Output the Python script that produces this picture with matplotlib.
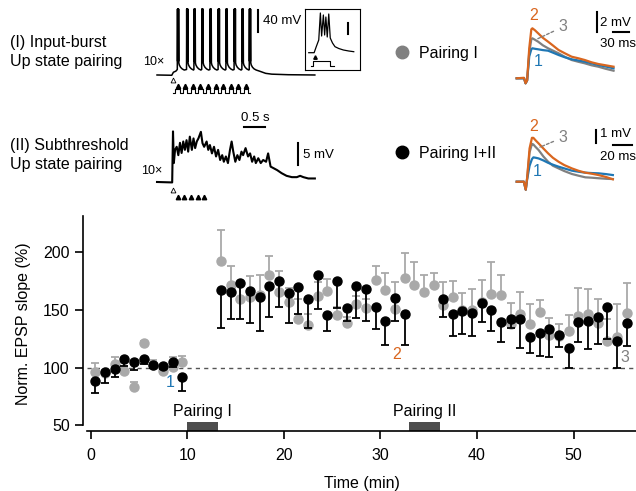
import numpy as np
import matplotlib
matplotlib.use("Agg")
import matplotlib.pyplot as plt
from matplotlib.lines import Line2D

plt.rcParams["font.family"] = ["Liberation Sans", "DejaVu Sans"]

W, H = 636, 491
ORANGE = "#d9661f"
BLUE = "#1f77b4"
GREY = "#808080"
LIGHT = "#a9a9a9"

# ---- summary data (min, % of baseline) ----
TIME = [0.5, 1.5, 2.5, 3.5, 4.5, 5.5, 6.5, 7.5, 8.5, 9.5,
        13.5, 14.5, 15.5, 16.5, 17.5, 18.5, 19.5, 20.5, 21.5, 22.5,
        23.5, 24.5, 25.5, 26.5, 27.5, 28.5, 29.5, 30.5, 31.5, 32.5,
        33.5, 34.5, 35.5, 36.5, 37.5, 38.5, 39.5, 40.5, 41.5, 42.5,
        43.5, 44.5, 45.5, 46.5, 47.5, 48.5, 49.5, 50.5, 51.5, 52.5,
        53.5, 54.5, 55.5]
P1_MEAN = [96.5, 95, 103.2, 97.1, 83.6, 121.1, 102, 96.9, 101, 105.2,
           192.3, 171.5, 159.2, 160.9, 162.9, 180.5, 165.8, 156.6, 142, 136.7,
           162, 166.6, 145.3, 138.4, 155.1, 151.4, 175.9, 167.2, 151, 177.3,
           171.3, 165.2, 171.5, 154.2, 161, 150, 150, 157, 163.8, 162.6,
           137.8, 146.4, 137.8, 147.9, 128.3, 127.4, 131.7, 145, 146.2, 138.4,
           123.1, 126.8, 147.6]
P1_SEM = [7.3, 3, 6.3, 3, 4.3, 2, 5, 3, 8, 5,
          27, 16.5, 12, 18, 17, 16, 18, 12.5, 17, 10,
          12, 10, 7.5, 5, 7, 7.6, 12, 14.4, 23, 22,
          20, 15, 10.7, 20, 14, 15, 18, 19, 28, 17.6,
          17.9, 19.3, 17, 10.7, 15, 10.4, 13.9, 24, 21.9, 21,
          19, 28, 25.4]
P12_MEAN = [88.2, 96.0, 98.6, 107.5, 104.7, 107.5, 102.6, 101.7, 105.2, 92,
            167.2, 165.8, 173.5, 166, 160.9, 170.7, 175.3, 164.9, 169.8, 159.2,
            180.2, 145.3, 175, 151.4, 170.7, 168.3, 152.5, 140.4, 160, 146.2,
            np.nan, np.nan, np.nan, 159.2, 146.4, 149.3, 147.1, 155.7, 149.9, 139.8,
            142.1, 142.1, 126.8, 129.8, 133.5, 128.3, 117.3, 139.8, 140.7, 144.1,
            152.8, 123.1, 138.9]
P12_SEM = [10.4, 9, 6.4, 6, 6.7, 4.5, 3, 3, 5, 12,
           33, 24, 31, 27, 29, 27, 23, 26.5, 23.4, 24.6,
           29.7, 13.3, 23, 11, 28, 27.7, 19.3, 20.8, 20, 26.6,
           np.nan, np.nan, np.nan, 15.6, 18.7, 20, 19.4, 16, 18, 17.3,
           8, 25.3, 14.3, 19.4, 24.5, 10, 17.3, 17.3, 24.8, 23.6,
           28.2, 23.6, 20.1]
PAIRING_START = [10, 33]
PAIRING_END = [13.2, 36.2]
PAIRING_LABELS = ["Pairing I", "Pairing II"]

# ---- example voltage traces ----
# (I) input-burst pairing: s, mV
TRACE_I_PRE_T = [0.00, 0.36, 0.40, 0.46]
TRACE_I_PRE_V = [-70, -70.5, -65, -63]
BURST_ONSETS = [0.495, 0.72, 0.90, 1.09, 1.29, 1.49, 1.68, 1.88, 2.07, 2.25]
BURST_SHAPE_T = [0.000, 0.004, 0.008, 0.013, 0.017, 0.022, 0.027, 0.032,
                 0.037, 0.050, 0.080, 0.120, 0.170]
BURST_SHAPE_V = [-60, 50, -45, 50, -45, 50, -45, 50, -48, -52, -56, -59, -61]
TRACE_I_POST_T = [2.50, 2.65, 2.80, 3.20, 3.85]
TRACE_I_POST_V = [-63, -67, -68.5, -69.5, -70]
STIM_I = [0.50, 0.69, 0.87, 1.06, 1.24, 1.43, 1.61, 1.80, 1.98, 2.17]

# inset: ms, mV
INSET_T = [0, 21.5, 30, 40, 46.5, 51.5, 58.5, 63.5, 68.5, 74, 80, 86, 95,
           105, 120, 138.5, 160, 180]
INSET_V = [-70, -70, -58, -44.6, 9.4, -36.6, 5.4, -34.6, 1.4, -38.6, 7.4,
           -40.6, -50.6, -58, -61.6, -64.6, -66.6, -68]

# (II) subthreshold pairing: s, mV
TRACE_II_T = [0.00, 0.37, 0.39, 0.41, 0.44, 0.48, 0.52, 0.56, 0.60, 0.64,
              0.68, 0.72, 0.76, 0.80, 0.85, 0.89, 0.93, 0.97, 1.01, 1.07,
              1.11, 1.15, 1.21, 1.25, 1.29, 1.34, 1.39, 1.44, 1.49, 1.54,
              1.59, 1.63, 1.68, 1.73, 1.78, 1.82, 1.86, 1.91, 1.96, 2.01,
              2.06, 2.10, 2.16, 2.22, 2.27, 2.32, 2.37, 2.41, 2.47, 2.53,
              2.59, 2.66, 2.71, 2.77, 2.85, 2.93, 3.04, 3.16, 3.29, 3.41,
              3.49, 3.57, 3.69, 3.85]
TRACE_II_V = [0.0, -0.1, 11.5, 4.3, 7.3, 8.0, 6.1, 8.9, 6.6, 9.2,
              7.3, 9.5, 6.9, 10.3, 7.3, 9.9, 7.7, 9.2, 9.9, 11.4,
              8.8, 8.0, 9.2, 7.3, 8.4, 6.5, 8.0, 5.8, 7.3, 5.0,
              6.1, 4.6, 5.8, 4.3, 7.3, 9.2, 6.9, 4.6, 6.1, 5.0,
              6.9, 6.1, 7.7, 5.8, 6.5, 4.6, 5.8, 4.3, 5.4, 4.3,
              5.0, 4.6, 6.5, 3.5, 3.1, 2.7, 2.0, 1.4, 1.1, 1.1,
              1.4, 1.1, 0.8, 0.8]
STIM_II = [0.50, 0.66, 0.83, 0.99, 1.15]

# averaged EPSPs: ms, mV   (1 = baseline, 2 = after pairing, 3 = late)
EPSP_I_T = [0, 14, 17, 20, 24, 28, 30, 35, 41, 50, 60, 70, 80, 92, 105,
            118, 130, 143, 156, 170, 185]
EPSP_I_1 = [0, 0, -0.5, -0.2, 2.2, 2.9, 3.0, 2.95, 2.9, 2.82, 2.76, 2.55,
            2.33, 2.1, 1.9, 1.78, 1.66, 1.5, 1.33, 1.18, 1.0]
EPSP_I_2 = [0, 0.05, -0.5, -0.2, 3.0, 4.9, 5.0, 4.8, 4.5, 4.05, 3.66, 3.25,
            2.83, 2.5, 2.16, 2.0, 1.83, 1.6, 1.43, 1.3, 1.16]
EPSP_I_3 = [0, 0, -0.5, -0.2, 2.6, 3.9, 4.0, 3.85, 3.66, 3.3, 3.0, 2.75,
            2.5, 2.15, 1.83, 1.65, 1.5, 1.3, 1.16, 0.95, 0.76]
EPSP_II_T = [0, 7.5, 9.5, 11, 13.5, 16, 17.5, 20, 23, 28, 33, 38, 44, 50,
             58, 65, 72, 79, 86, 94, 101]
EPSP_II_1 = [0, 0, -0.6, 0.2, 1.2, 1.7, 1.83, 1.8, 1.75, 1.6, 1.42, 1.28,
             1.13, 1.0, 0.83, 0.75, 0.68, 0.65, 0.63, 0.57, 0.5]
EPSP_II_2 = [0, 0, -0.6, 0.3, 2.5, 3.3, 3.3, 3.1, 2.88, 2.5, 2.13, 1.8,
             1.5, 1.25, 1.0, 0.82, 0.68, 0.6, 0.5, 0.35, 0.18]
EPSP_II_3 = [0, 0, -0.6, 0.3, 2.2, 2.85, 2.8, 2.6, 2.38, 1.9, 1.5, 1.2,
             1.0, 0.8, 0.58, 0.45, 0.33, 0.3, 0.26, 0.22, 0.2]


def px_axes(fig, x0, y0, x1, y1):
    ax = fig.add_axes([x0 / W, 1 - y1 / H, (x1 - x0) / W, (y1 - y0) / H])
    ax.patch.set_alpha(0)
    return ax


fig = plt.figure(figsize=(W / 100, H / 100), dpi=100)

# ---------- main time course ----------
ax = fig.add_axes([87 / W, 1 - 431 / H, (W - 87) / W, (431 - 216) / H])
ax.set_xlim(-0.37, 56.46)
ax.set_ylim(45.2, 231.2)
ax.axhline(100, color="#555555", lw=1, ls=(0, (3, 3)), zorder=1)

t = np.array(TIME)
zero = np.zeros(len(t))
ax.errorbar(t, P1_MEAN, yerr=[zero, P1_SEM], fmt="o", color=LIGHT, ms=6.5,
            elinewidth=1.3, capsize=3, capthick=1.3, zorder=2)
ax.errorbar(t, P12_MEAN, yerr=[P12_SEM, zero], fmt="o", color="black", ms=6.5,
            elinewidth=1.3, capsize=3, capthick=1.3, zorder=3)

for s, e, lab in zip(PAIRING_START, PAIRING_END, PAIRING_LABELS):
    ax.axvspan(s, e, ymin=0, ymax=(52.7 - 45.2) / (231.2 - 45.2),
               color="#4d4d4d", lw=0, zorder=2)
    ax.text((s + e) / 2, 62.5, lab, ha="center", va="center", fontsize=11.5)

ax.text(8.2, 86.8, "1", color=BLUE, ha="center", va="center", fontsize=11.5)
ax.text(31.7, 111.8, "2", color=ORANGE, ha="center", va="center", fontsize=11.5)
ax.text(55.3, 109, "3", color=GREY, ha="center", va="center", fontsize=11.5)

ax.spines[["top", "right"]].set_visible(False)
ax.spines["left"].set_position(("outward", 3))
ax.spines["left"].set_bounds(50, 231.2)
for sp in ("left", "bottom"):
    ax.spines[sp].set_linewidth(1.2)
ax.set_xticks([0, 10, 20, 30, 40, 50])
ax.set_yticks([50, 100, 150, 200])
ax.tick_params(length=6, width=1.2, labelsize=11.5)
ax.tick_params(axis="x", pad=6)
ax.set_xlabel("Time (min)", fontsize=11.5)
ax.xaxis.set_label_coords(0.5, -0.21)
ax.set_ylabel("Norm. EPSP slope (%)", fontsize=11.5)
ax.yaxis.set_label_coords(-0.102, 0.5)

# ---------- row labels ----------
fig.text(10 / W, 1 - 52 / H, "(I) Input-burst\nUp state pairing",
         ha="left", va="center", fontsize=11.5, linespacing=1.3)
fig.text(10 / W, 1 - 155 / H, "(II) Subthreshold\nUp state pairing",
         ha="left", va="center", fontsize=11.5, linespacing=1.3)

# ---------- trace I ----------
a1 = px_axes(fig, 150, 0, 320, 100)
a1.set_xlim(-0.171, 3.976)
a1.set_ylim(-115.5, 66.4)
a1.axis("off")
ti, vi = list(TRACE_I_PRE_T), list(TRACE_I_PRE_V)
for onset in BURST_ONSETS:
    ti += [onset + dt for dt in BURST_SHAPE_T]
    vi += BURST_SHAPE_V
ti += TRACE_I_POST_T
vi += TRACE_I_POST_V
a1.plot(ti, vi, color="black", lw=1.1)
a1.plot(STIM_I, [-90] * len(STIM_I), "^", color="black", ms=3.2)
pt, pv = [STIM_I[0] - 0.1], [-102.5]
for s in STIM_I:
    pt += [s - 0.05, s - 0.05, s + 0.05, s + 0.05]
    pv += [-102.5, -95.5, -95.5, -102.5]
pt.append(STIM_I[-1] + 0.1)
pv.append(-102.5)
a1.plot(pt, pv, color="black", lw=0.8)
a1.plot([0.383], [-80], "^", mfc="white", mec="black", ms=3.5, mew=0.6)
a1.plot([2.46, 2.46], [8.2, 48.2], color="black", lw=1.5)
a1.text(2.585, 28, "40 mV", ha="left", va="center", fontsize=9.5)
a1.text(-0.08, -46.4, "10×", ha="center", va="center", fontsize=9)

# inset
ai = px_axes(fig, 305, 9, 360, 70)
ai.patch.set_alpha(1)
ai.set_xlim(-15, 205)
ai.set_ylim(-104.6, 17.4)
ai.set_xticks([])
ai.set_yticks([])
for sp in ai.spines.values():
    sp.set_linewidth(0.8)
ai.plot(INSET_T, INSET_V, color="black", lw=0.9)
ai.plot([158.5, 158.5], [-33.2, -10], color="black", lw=1.5)
ai.plot([25], [-78], "^", color="black", ms=2.5)
ai.plot([8, 16.5, 16.5, 83.5, 83.5, 100], [-96.6, -96.6, -86.6, -86.6, -96.6, -96.6],
        color="black", lw=0.8)

# ---------- trace II ----------
a2 = px_axes(fig, 150, 105, 340, 205)
a2.set_xlim(-0.171, 4.463)
a2.set_ylim(-5.23, 17.5)
a2.axis("off")
a2.plot(TRACE_II_T, TRACE_II_V, color="black", lw=1.5)
a2.plot(STIM_II, [-3.4] * len(STIM_II), "^", color="black", ms=3.2)
a2.plot([0.39], [-1.8], "^", mfc="white", mec="black", ms=3.5, mew=0.6)
a2.plot([2.12, 2.63], [12.5, 12.5], color="black", lw=1.5)
a2.text(2.39, 14.5, "0.5 s", ha="center", va="center", fontsize=9.5)
a2.plot([3.44, 3.44], [3.9, 8.9], color="black", lw=1.5)
a2.text(3.56, 6.1, "5 mV", ha="left", va="center", fontsize=9.5)
a2.text(-0.12, 2.57, "10×", ha="center", va="center", fontsize=9)

# ---------- legend ----------
handles = [Line2D([], [], ls="none", marker="o", ms=9, color=GREY),
           Line2D([], [], ls="none", marker="o", ms=9, color="black")]
fig.legend(handles, ["Pairing I", "Pairing I+II"], loc="upper left",
           bbox_to_anchor=(392 / W, 1 - 46 / H), frameon=False, fontsize=11.5,
           labelspacing=5.3, handlelength=1.2, handletextpad=0.5,
           borderpad=0, borderaxespad=0)

# ---------- EPSP averages ----------
e1 = px_axes(fig, 505, 5, 636, 95)
e1.set_xlim(-22.3, 227.9)
e1.set_ylim(-1.67, 7.33)
e1.axis("off")
e1.plot(EPSP_I_T, EPSP_I_3, color=GREY, lw=1.6)
e1.plot(EPSP_I_T, EPSP_I_1, color=BLUE, lw=1.6)
e1.plot(EPSP_I_T, EPSP_I_2, color=ORANGE, lw=1.6)
e1.text(31.7, 6.33, "2", color=ORANGE, ha="center", va="center", fontsize=11.5)
e1.text(41.3, 1.66, "1", color=BLUE, ha="center", va="center", fontsize=11.5)
e1.annotate("3", xy=(40, 3.95), xytext=(89, 5.16), color=GREY, ha="center",
            va="center", fontsize=11.5,
            arrowprops=dict(arrowstyle="-", ls=(0, (2, 1.5)), color=GREY,
                            lw=1, shrinkA=2, shrinkB=0))
e1.plot([152.8, 152.8], [4.66, 6.66], color="black", lw=1.5)
e1.text(159, 5.53, "2 mV", ha="left", va="center", fontsize=9.5)
e1.plot([184.5, 214.5], [4.6, 4.6], color="black", lw=1.5)
e1.text(193.5, 3.43, "30 ms", ha="center", va="center", fontsize=9.5)

e2 = px_axes(fig, 505, 105, 636, 195)
e2.set_xlim(-12.3, 125.3)
e2.set_ylim(-1.0, 5.77)
e2.axis("off")
e2.plot(EPSP_II_T, EPSP_II_3, color=GREY, lw=1.6)
e2.plot(EPSP_II_T, EPSP_II_1, color=BLUE, lw=1.6)
e2.plot(EPSP_II_T, EPSP_II_2, color=ORANGE, lw=1.6)
e2.text(17.4, 4.14, "2", color=ORANGE, ha="center", va="center", fontsize=11.5)
e2.text(21.6, 0.8, "1", color=BLUE, ha="center", va="center", fontsize=11.5)
e2.annotate("3", xy=(24.5, 2.6), xytext=(48.9, 3.34), color=GREY, ha="center",
            va="center", fontsize=11.5,
            arrowprops=dict(arrowstyle="-", ls=(0, (2, 1.5)), color=GREY,
                            lw=1, shrinkA=2, shrinkB=0))
e2.plot([83, 83], [2.89, 3.89], color="black", lw=1.5)
e2.text(87.5, 3.59, "1 mV", ha="left", va="center", fontsize=9.5)
e2.plot([101.4, 121.4], [2.76, 2.76], color="black", lw=1.5)
e2.text(106.9, 1.86, "20 ms", ha="center", va="center", fontsize=9.5)

fig.savefig("out.png", dpi=100)
